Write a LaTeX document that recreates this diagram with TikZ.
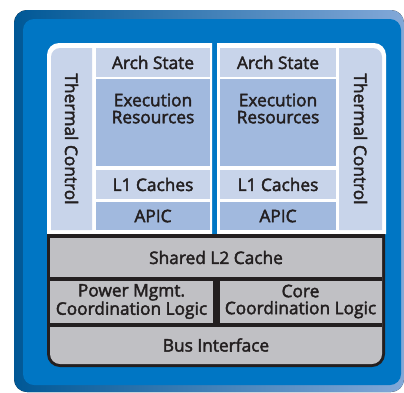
\documentclass[tikz,border=0pt]{standalone}
\usepackage{fontspec}
\setmainfont{Open Sans}[FakeBold=2.4]
\begin{document}
\begin{tikzpicture}[x=1pt,y=-1pt,
  txt/.style={font=\fontsize{17.3}{17}\selectfont, text=ink, align=center, inner sep=0pt}]
\definecolor{ink}{RGB}{35,31,32}
\definecolor{dkblue}{RGB}{0,88,150}
\definecolor{mdblue}{RGB}{0,118,196}
\definecolor{ltblue}{RGB}{130,168,216}
\definecolor{lav}{RGB}{200,212,234}
\definecolor{peri}{RGB}{161,185,222}
\definecolor{grayc}{RGB}{192,192,196}
\useasboundingbox (0,0) rectangle (404,392);
\fill[white] (0,0) rectangle (404,392);
% outer bevel
\fill[left color=dkblue, middle color=dkblue!95!ltblue, right color=ltblue, rounded corners=13pt] (14,10) rectangle (404,392);
\fill[mdblue, rounded corners=11pt] (23,19) rectangle (401,385);
% core frames
\fill[white] (212,234) -- (47,234) -- (47,55) arc[start angle=180, end angle=270, radius=12] -- (212,43) -- cycle;
\fill[white] (217,234) -- (217,43) -- (374,43) arc[start angle=-90, end angle=0, radius=12] -- (386,234) -- cycle;
% left core
\fill[lav] (92,230) -- (51,230) -- (51,57) arc[start angle=180, end angle=270, radius=9] -- (92,48) -- cycle;
\node[txt, rotate=-90] (tcl) at (71.5,139) {Thermal Control};
\fill[lav] (96,48) rectangle (210,77);
\node[txt] (asl) at (153,62.5) {Arch State};
\fill[peri] (96,79) rectangle (210,166);
\node[txt] (erl) at (153,108.5) {Execution\\Resources};
\fill[lav] (96,170) rectangle (210,199);
\node[txt] (l1l) at (153,184.5) {L1 Caches};
\fill[peri] (96,202) rectangle (210,230);
\node[txt] (apl) at (153,216) {APIC};
% right core
\fill[lav] (220,48) rectangle (336,77);
\node[txt] (asr) at (278,62.5) {Arch State};
\fill[peri] (220,79) rectangle (336,166);
\node[txt] (err) at (278,108.5) {Execution\\Resources};
\fill[lav] (220,170) rectangle (336,199);
\node[txt] (l1r) at (278,184.5) {L1 Caches};
\fill[peri] (220,202) rectangle (336,230);
\node[txt] (apr) at (278,216) {APIC};
\fill[lav] (339,230) -- (339,48) -- (373,48) arc[start angle=-90, end angle=0, radius=9] -- (382,230) -- cycle;
\node[txt, rotate=-90] (tcr) at (360.5,139) {Thermal Control};
% shared section
\fill[ink, rounded corners=13pt] (47,250) -- (47,367) -- (385,367) -- (385,250) [sharp corners] -- (385,234) -- (47,234) -- cycle;
\fill[grayc, rounded corners=10pt] (50,250) -- (50,364) -- (382,364) -- (382,250) [sharp corners] -- (382,238) -- (50,238) -- cycle;
\fill[ink] (50,276.5) rectangle (382,280.5);
\fill[ink] (50,322.5) rectangle (382,326.5);
\fill[ink] (213,280) rectangle (220,323);
\node[txt] (l2) at (216,257.5) {Shared L2 Cache};
\node[txt] (pm) at (131.5,301.5) {Power Mgmt.\\Coordination Logic};
\node[txt] (cc) at (300.5,301.5) {Core\\Coordination Logic};
\node[txt] (bi) at (216,345) {Bus Interface};
\end{tikzpicture}
\end{document}
